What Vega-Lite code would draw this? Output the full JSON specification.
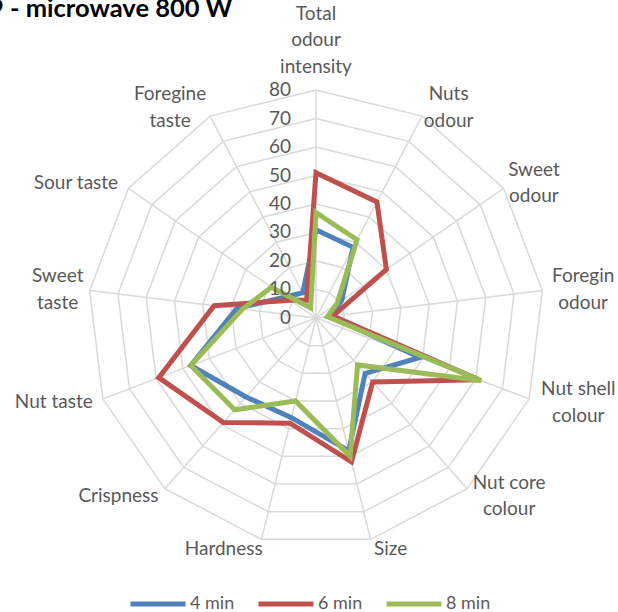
{
  "$schema": "https://vega.github.io/schema/vega-lite/v6.json",
  "width": 618,
  "height": 612,
  "autosize": {"type": "none"},
  "padding": 0,
  "background": "white",
  "title": {"text": "9 - microwave 800 W", "anchor": "start", "frame": "group", "fontSize": 25.5, "fontWeight": "bold", "font": "Lato", "color": "#000000", "offset": -42, "baseline": "alphabetic", "dx": -11},
  "datasets": {
    "axes": [
      {"i": 0, "label": "Total\nodour\nintensity", "levels": [10, 20, 30, 40, 50, 60, 70, 80]},
      {"i": 1, "label": "Nuts\nodour", "levels": [10, 20, 30, 40, 50, 60, 70, 80]},
      {"i": 2, "label": "Sweet\nodour", "levels": [10, 20, 30, 40, 50, 60, 70, 80]},
      {"i": 3, "label": "Foregin\nodour", "levels": [10, 20, 30, 40, 50, 60, 70, 80]},
      {"i": 4, "label": "Nut shell\ncolour", "levels": [10, 20, 30, 40, 50, 60, 70, 80]},
      {"i": 5, "label": "Nut core\ncolour", "levels": [10, 20, 30, 40, 50, 60, 70, 80]},
      {"i": 6, "label": "Size", "levels": [10, 20, 30, 40, 50, 60, 70, 80]},
      {"i": 7, "label": "Hardness", "levels": [10, 20, 30, 40, 50, 60, 70, 80]},
      {"i": 8, "label": "Crispness", "levels": [10, 20, 30, 40, 50, 60, 70, 80]},
      {"i": 9, "label": "Nut taste", "levels": [10, 20, 30, 40, 50, 60, 70, 80]},
      {"i": 10, "label": "Sweet\ntaste", "levels": [10, 20, 30, 40, 50, 60, 70, 80]},
      {"i": 11, "label": "Sour taste", "levels": [10, 20, 30, 40, 50, 60, 70, 80]},
      {"i": 12, "label": "Foregine\ntaste", "levels": [10, 20, 30, 40, 50, 60, 70, 80]}
    ],
    "ticks": [
      {"level": 0}, {"level": 10}, {"level": 20}, {"level": 30}, {"level": 40},
      {"level": 50}, {"level": 60}, {"level": 70}, {"level": 80}
    ],
    "scores": [
      {"attribute": "Total odour intensity", "i": 0, "time": "4 min", "value": 31},
      {"attribute": "Nuts odour", "i": 1, "time": "4 min", "value": 28},
      {"attribute": "Sweet odour", "i": 2, "time": "4 min", "value": 11},
      {"attribute": "Foregin odour", "i": 3, "time": "4 min", "value": 5},
      {"attribute": "Nut shell colour", "i": 4, "time": "4 min", "value": 39},
      {"attribute": "Nut core colour", "i": 5, "time": "4 min", "value": 26},
      {"attribute": "Size", "i": 6, "time": "4 min", "value": 48},
      {"attribute": "Hardness", "i": 7, "time": "4 min", "value": 36},
      {"attribute": "Crispness", "i": 8, "time": "4 min", "value": 37},
      {"attribute": "Nut taste", "i": 9, "time": "4 min", "value": 47},
      {"attribute": "Sweet taste", "i": 10, "time": "4 min", "value": 28},
      {"attribute": "Sour taste", "i": 11, "time": "4 min", "value": 13},
      {"attribute": "Foregine taste", "i": 12, "time": "4 min", "value": 10},
      {"attribute": "Total odour intensity", "i": 0, "time": "6 min", "value": 51},
      {"attribute": "Nuts odour", "i": 1, "time": "6 min", "value": 46},
      {"attribute": "Sweet odour", "i": 2, "time": "6 min", "value": 30},
      {"attribute": "Foregin odour", "i": 3, "time": "6 min", "value": 6},
      {"attribute": "Nut shell colour", "i": 4, "time": "6 min", "value": 61},
      {"attribute": "Nut core colour", "i": 5, "time": "6 min", "value": 30},
      {"attribute": "Size", "i": 6, "time": "6 min", "value": 52},
      {"attribute": "Hardness", "i": 7, "time": "6 min", "value": 38},
      {"attribute": "Crispness", "i": 8, "time": "6 min", "value": 49},
      {"attribute": "Nut taste", "i": 9, "time": "6 min", "value": 59},
      {"attribute": "Sweet taste", "i": 10, "time": "6 min", "value": 36},
      {"attribute": "Sour taste", "i": 11, "time": "6 min", "value": 11},
      {"attribute": "Foregine taste", "i": 12, "time": "6 min", "value": 7},
      {"attribute": "Total odour intensity", "i": 0, "time": "8 min", "value": 37},
      {"attribute": "Nuts odour", "i": 1, "time": "8 min", "value": 31},
      {"attribute": "Sweet odour", "i": 2, "time": "8 min", "value": 9},
      {"attribute": "Foregin odour", "i": 3, "time": "8 min", "value": 4},
      {"attribute": "Nut shell colour", "i": 4, "time": "8 min", "value": 62},
      {"attribute": "Nut core colour", "i": 5, "time": "8 min", "value": 22},
      {"attribute": "Size", "i": 6, "time": "8 min", "value": 50},
      {"attribute": "Hardness", "i": 7, "time": "8 min", "value": 30},
      {"attribute": "Crispness", "i": 8, "time": "8 min", "value": 43},
      {"attribute": "Nut taste", "i": 9, "time": "8 min", "value": 47},
      {"attribute": "Sweet taste", "i": 10, "time": "8 min", "value": 26},
      {"attribute": "Sour taste", "i": 11, "time": "8 min", "value": 19},
      {"attribute": "Foregine taste", "i": 12, "time": "8 min", "value": 4}
    ]
  },
  "encoding": {
    "x": {"field": "x", "type": "quantitative", "scale": {"domain": [-110.877, 105.965], "nice": false, "zero": false}, "axis": null},
    "y": {"field": "y", "type": "quantitative", "scale": {"domain": [-103.158, 111.579], "nice": false, "zero": false}, "axis": null}
  },
  "layer": [
    {
      "data": {"name": "axes"},
      "transform": [
        {"flatten": ["levels"], "as": ["level"]},
        {"calculate": "datum.i * 2 * PI / 13", "as": "theta"},
        {"calculate": "datum.level * sin(datum.theta)", "as": "x"},
        {"calculate": "datum.level * cos(datum.theta)", "as": "y"}
      ],
      "mark": {"type": "line", "interpolate": "linear-closed", "stroke": "#D9D9D9", "strokeWidth": 1.5},
      "encoding": {
        "detail": {"field": "level", "type": "quantitative"},
        "order": {"field": "i", "type": "quantitative"}
      }
    },
    {
      "data": {"name": "axes"},
      "transform": [
        {"calculate": "datum.i * 2 * PI / 13", "as": "theta"},
        {"calculate": "0", "as": "x"},
        {"calculate": "0", "as": "y"},
        {"calculate": "80 * sin(datum.theta)", "as": "x2"},
        {"calculate": "80 * cos(datum.theta)", "as": "y2"}
      ],
      "mark": {"type": "rule", "stroke": "#D9D9D9", "strokeWidth": 1.5},
      "encoding": {
        "x2": {"field": "x2"},
        "y2": {"field": "y2"}
      }
    },
    {
      "data": {"name": "scores"},
      "transform": [
        {"calculate": "datum.i * 2 * PI / 13", "as": "theta"},
        {"calculate": "datum.value * sin(datum.theta)", "as": "x"},
        {"calculate": "datum.value * cos(datum.theta)", "as": "y"}
      ],
      "mark": {"type": "line", "interpolate": "linear-closed", "strokeWidth": 5},
      "encoding": {
        "color": {
          "field": "time", "type": "nominal",
          "scale": {"domain": ["4 min", "6 min", "8 min"], "range": ["#4F81BD", "#C0504D", "#9BBB59"]},
          "legend": {
            "orient": "none", "legendX": 128, "legendY": 574, "direction": "horizontal", "columns": 3,
            "title": null, "symbolType": "stroke", "symbolSize": 3025, "symbolStrokeWidth": 5,
            "labelFontSize": 18, "labelFont": "Lato", "labelColor": "#595959", "labelOffset": 2, "columnPadding": 13
          }
        },
        "order": {"field": "i", "type": "quantitative"}
      }
    },
    {
      "data": {"name": "ticks"},
      "transform": [
        {"calculate": "0", "as": "x"},
        {"calculate": "datum.level", "as": "y"}
      ],
      "mark": {"type": "text", "align": "right", "baseline": "middle", "dx": -25, "fontSize": 19, "font": "Lato", "color": "#595959"},
      "encoding": {"text": {"field": "level", "type": "quantitative"}}
    },
    {
      "data": {"name": "axes"},
      "transform": [
        {"calculate": "datum.i * 2 * PI / 13", "as": "theta"},
        {"calculate": "sin(datum.theta)", "as": "s"},
        {"calculate": "cos(datum.theta)", "as": "c"},
        {"calculate": "length(split(datum.label, '\\n'))", "as": "nl"},
        {"calculate": "max(length(split(datum.label, '\\n')[0]), length(split(datum.label, '\\n')[1] || ''), length(split(datum.label, '\\n')[2] || ''))", "as": "mw"},
        {"calculate": "83.5 * datum.s + (datum.s > 0.01 ? 1 : (datum.s < -0.01 ? -1 : 0)) * datum.mw * 1.55", "as": "x"},
        {"calculate": "83.5 * datum.c + (abs(datum.s) < 0.01 ? (datum.nl - 0.5) * 26.5 / 2.85 : (datum.nl - 1) * 26.5 / 2 / 2.85)", "as": "y"}
      ],
      "mark": {"type": "text", "align": "center", "baseline": "middle", "lineBreak": "\n", "lineHeight": 26.5, "fontSize": 19, "font": "Lato", "color": "#595959"},
      "encoding": {"text": {"field": "label", "type": "nominal"}}
    }
  ],
  "config": {"view": {"stroke": null}}
}
